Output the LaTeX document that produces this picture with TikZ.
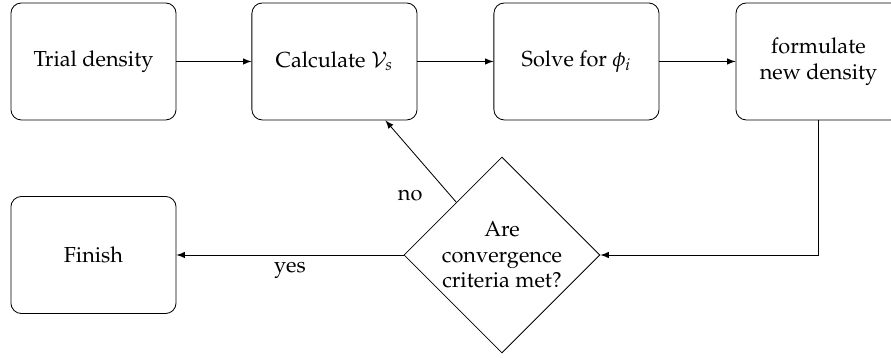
\documentclass[tikz,border=0pt]{standalone}
\usepackage[T1]{fontenc}
\usepackage{mathpazo}
\usepackage{amsmath,amssymb}
\usepackage{tikz}
\usetikzlibrary{arrows,shapes}

\begin{document}
\begin{tikzpicture}[scale=1,>=latex,font=\fontsize{10.4}{12.3}\selectfont,
  box/.style={draw,rounded corners=5pt,minimum width=2.78cm,minimum height=1.97cm,align=center},
  test/.style={draw,diamond,aspect=1,minimum size=3.3cm,inner sep=1pt,align=center}]
\useasboundingbox (0,0) rectangle (15,-6.027);
\node (A1) at (1.574,-1.035) [box] {Trial density};
\node (A2) at (5.631,-1.035) [box] {Calculate $\mathcal{V}_s$};
\node (A3) at (9.705,-1.035) [box] {Solve for $\phi_i$};
\node (A4) at (13.78,-1.035) [box] {formulate\\new density};
\node (A5) at (1.574,-4.293) [box] {Finish};
\node (A6) at (8.451,-4.293) [test] {Are\\convergence\\criteria met?};
\draw[->] (A1)--(A2);
\draw[->] (A2)--(A3);
\draw[->] (A3)--(A4);
\draw[->] (A4) |- (A6);
\draw[->] (A6)--(A5) node[midway,below] {yes};
\draw[->] (A6)--(A2) node[pos=0.08,left=10pt] {no};
\end{tikzpicture}
\end{document}
